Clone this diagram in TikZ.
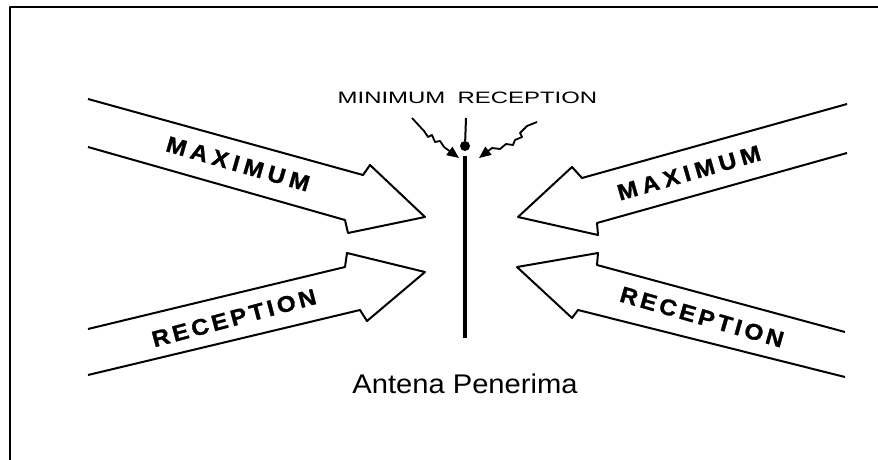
\documentclass[tikz,border=0pt]{standalone}
\usepackage{fontspec}
\setmainfont{Liberation Sans}
\newfontfamily\lblfont{Liberation Sans Bold}[FakeBold=1.2]
\usetikzlibrary{arrows.meta}
\begin{document}
\begin{tikzpicture}[x=1pt,y=-1pt,line join=round,
  outl/.style={line width=2pt},
  lbl/.style={font=\lblfont\fontsize{22.5}{24}\selectfont, xscale=1.08, inner sep=0pt},
  wig/.style={line width=1.8pt, -{Triangle[length=12pt,width=10pt]}}]
\useasboundingbox (0,0) rectangle (878,460);
% frame
\draw[line width=2pt] (10,461) -- (10,7) -- (879,7);
% left MAXIMUM arrow
\draw[outl] (88,99) -- (363,175) -- (370,165) -- (425,217) -- (348,233) -- (345,220) -- (88,147);
% left RECEPTION arrow
\draw[outl] (88,329) -- (345,267) -- (347,253) -- (425,272) -- (367,321) -- (360,310) -- (88,375);
% right MAXIMUM arrow
\draw[outl] (847,104) -- (582,178) -- (572,167) -- (518,217) -- (598,235) -- (597,223) -- (847,153);
% right RECEPTION arrow
\draw[outl] (845,332) -- (597,265) -- (598,253) -- (517,267) -- (572,318) -- (578,310) -- (845,377);
% labels
\node[rotate=-16, lbl] (lmax) at (238,164) {\addfontfeature{LetterSpace=20}MAXIMUM};
\node[rotate=15, lbl] (lrec) at (234,318) {\addfontfeature{LetterSpace=14}RECEPTION};
\node[rotate=16, lbl] (rmax) at (689,173) {\addfontfeature{LetterSpace=20}MAXIMUM};
\node[rotate=-16, lbl] (rrec) at (702,317) {\addfontfeature{LetterSpace=14}RECEPTION};
% antenna
\coordinate (atop) at (466,118);
\node[circle, fill, inner sep=0pt, minimum size=10pt] (knob) at (465,146) {};
\draw[line width=2pt] (atop) -- (knob);
\coordinate (rodtop) at (465,156);
\coordinate (rodbot) at (465,338);
\draw[line width=3.8pt] (rodtop) -- (rodbot);
% minimum reception wiggles
\coordinate (wls) at (412,118);
\coordinate (wle) at (459,158);
\coordinate (wrs) at (537,122);
\coordinate (wre) at (479,158);
\draw[wig] (wls) -- (424,131) -- (428,137) -- (432,135) -- (435,142) -- (440,141) -- (444,147) -- (wle);
\draw[wig] (wrs) -- (527,126) -- (520,133) -- (522,137) -- (515,140) -- (513,145) -- (506,144) -- (500,149) -- (492,148) -- (wre);
% texts
\node[anchor=base, inner sep=0pt, font=\fontsize{16.5}{18}\selectfont, xscale=1.45] (minrec) at (467.5,103) {MINIMUM\hspace{8.5pt}RECEPTION};
\node[anchor=base, inner sep=0pt, font=\fontsize{27}{30}\selectfont, xscale=1.08] (cap) at (465,393) {Antena Penerima};
\end{tikzpicture}
\end{document}
